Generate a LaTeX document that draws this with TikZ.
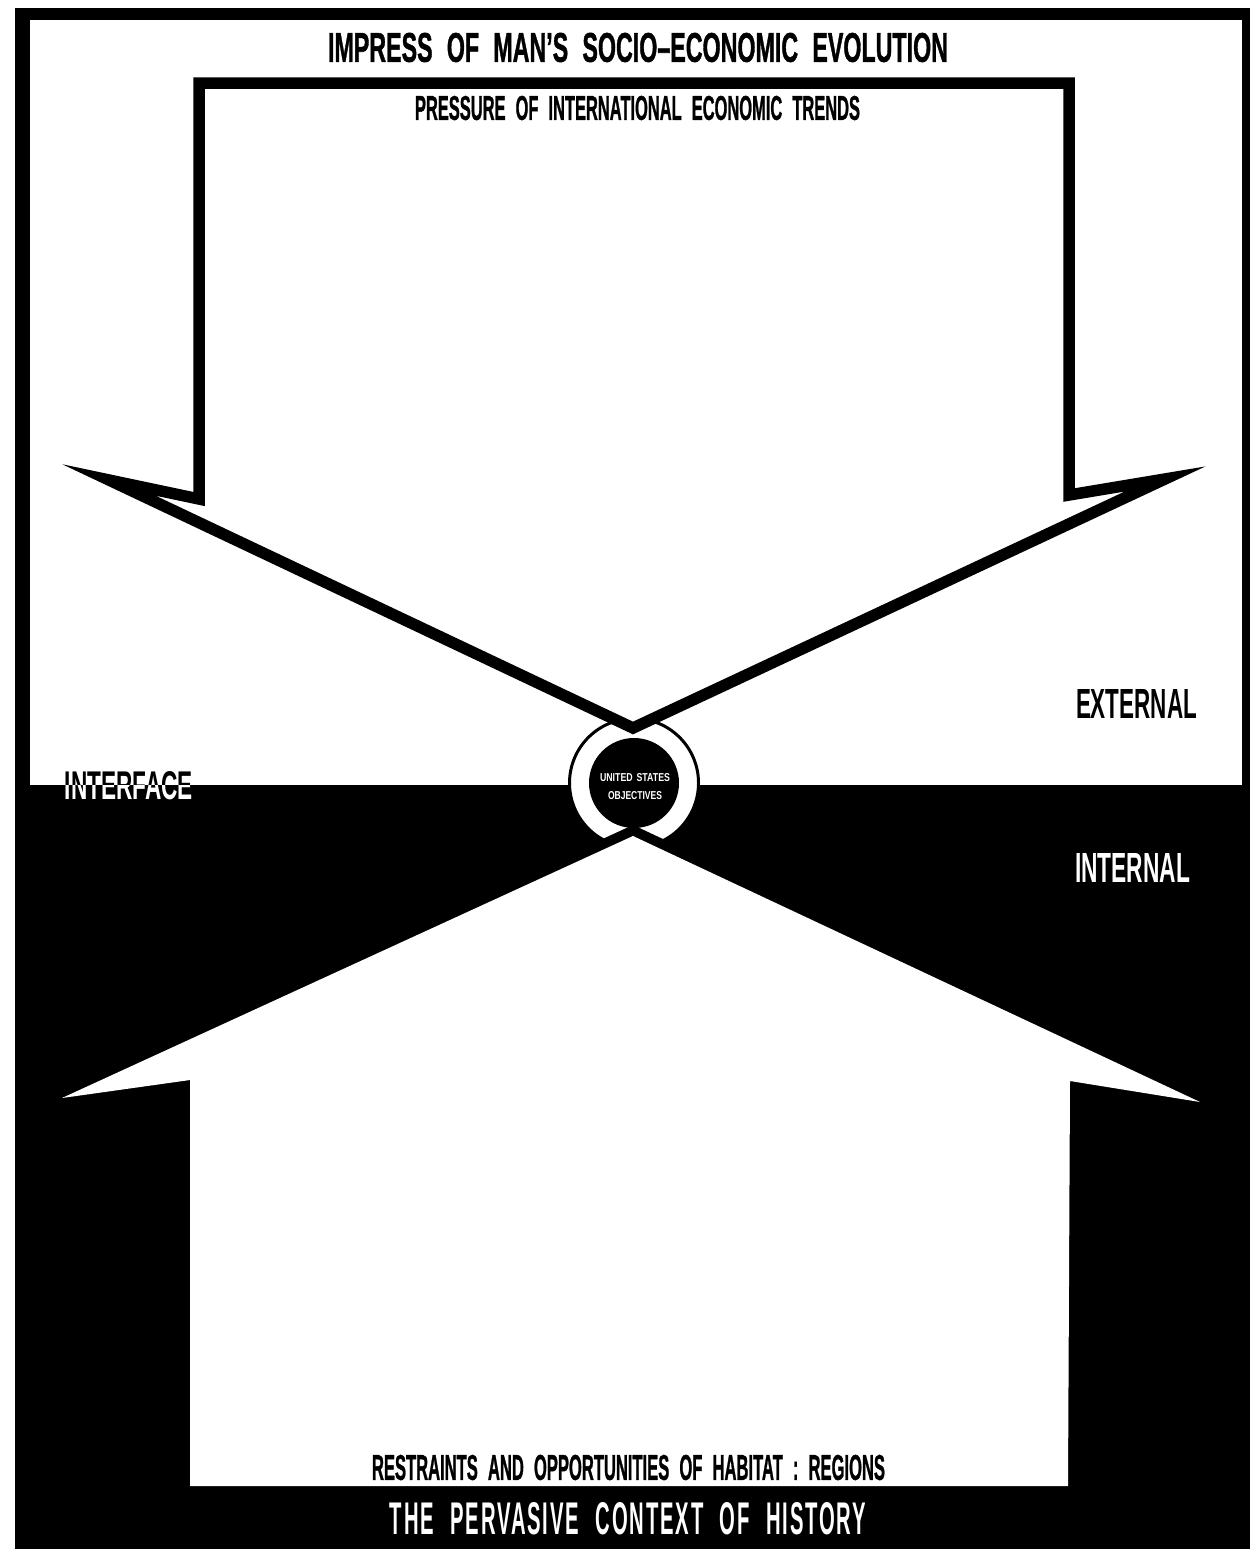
\documentclass[tikz,border=0pt]{standalone}
\usepackage{fontspec}
\setmainfont{Liberation Sans}[WordSpace=1.6]
\newfontfamily\heavyfont{Liberation Sans}[WordSpace=2.2, FakeBold=1.4]
\newfontfamily\spacedfont{Liberation Sans}[WordSpace=2.2, LetterSpace=9]
\usepackage{graphicx}
\usetikzlibrary{calc}

% squeeze a line of capitals into a given width and cap height
\newcommand{\capsbox}[3]{\resizebox{#1}{#2}{#3}}

\begin{document}
\begin{tikzpicture}[
  x=0.2mm, y=-0.2mm,
  ink/.style={fill=black, draw=none},
  paper/.style={fill=white, draw=none},
  arrowline/.style={draw=black, fill=white, line width=2.3mm,
                    line join=miter, miter limit=14},
  lbl/.style={inner sep=0pt, text=black, font=\bfseries},
  lblw/.style={lbl, text=white},
  heavy/.style={lbl, font=\heavyfont\bfseries},
]
\useasboundingbox (0,0) rectangle (1250,1549);

% ---------- frame: white (external) over black (internal) ----------
\fill[paper] (0,0) rectangle (1250,1549);
\fill[ink] (15,8) rectangle (1250,1549);
\fill[paper] (30,20) rectangle (1242,785);

% ---------- objectives disc ----------
\coordinate (ctr) at (634,783);
\draw[fill=white, line width=0.6mm] (ctr) circle[radius=12.9mm];
\fill[ink] (ctr) circle[radius=9mm];

% ---------- lower arrow: habitat ----------
\coordinate (hab) at (633,836);
\coordinate (habtipr) at (1200,1102);
\coordinate (habcnr) at (1070,1081);
\coordinate (habbr) at (1068,1486);
\coordinate (habbl) at (190,1486);
\coordinate (habcnl) at (190,1080);
\coordinate (habtipl) at (62,1098);

\draw[line width=4mm] ($(hab)!.15!(habtipl)$) -- (hab) -- ($(hab)!.15!(habtipr)$);
\fill[paper] (hab) -- (habtipr) -- (habcnr) -- (habbr) -- (habbl)
  -- (habcnl) -- (habtipl) -- cycle;

% ---------- upper arrow: international pressure ----------
\coordinate (evtl) at (199,83);
\coordinate (evtr) at (1069,83);
\coordinate (evcnr) at (1069,495);
\coordinate (evtipr) at (1165,479);
\coordinate (evapex) at (633,728);
\coordinate (evtipl) at (109,480);
\coordinate (evcnl) at (199,499);

\draw[arrowline] (evtl) -- (evtr) -- (evcnr) -- (evtipr) -- (evapex)
  -- (evtipl) -- (evcnl) -- cycle;

% ---------- labels ----------
\node[heavy] (title) at (638,47.5)
  {\capsbox{124mm}{5.8mm}{IMPRESS OF MAN’S SOCIO–ECONOMIC EVOLUTION}};
\node[heavy] (subtitle) at (637.5,108)
  {\capsbox{89mm}{4.8mm}{PRESSURE OF INTERNATIONAL ECONOMIC TRENDS}};
\node[lbl] (extlab) at (1136.5,704)
  {\capsbox{24.2mm}{5.8mm}{EXTERNAL}};
\node[lblw] (intlab) at (1132.5,867.5)
  {\capsbox{23mm}{5.8mm}{INTERNAL}};

\begin{scope}
  \clip (0,0) rectangle (1250,785);
  \node[lbl] (ifaceup) at (129,786)
    {\capsbox{25.6mm}{5.6mm}{INTERFACE}};
\end{scope}
\begin{scope}
  \clip (0,785) rectangle (1250,1549);
  \node[lblw] (ifacedn) at (129,786)
    {\capsbox{25.6mm}{5.6mm}{INTERFACE}};
\end{scope}

\node[lblw] (usobja) at (635,778)
  {\capsbox{14mm}{1.6mm}{UNITED STATES}};
\node[lblw] (usobjb) at (635,796)
  {\capsbox{10.8mm}{1.6mm}{OBJECTIVES}};

\node[heavy] (habitat) at (628.5,1467.5)
  {\capsbox{102.6mm}{5mm}{RESTRAINTS AND OPPORTUNITIES OF HABITAT : REGIONS}};
\node[lblw, font=\spacedfont\bfseries] (history) at (628,1519)
  {\capsbox{95.2mm}{6.4mm}{THE PERVASIVE CONTEXT OF HISTORY}};

\end{tikzpicture}
\end{document}
